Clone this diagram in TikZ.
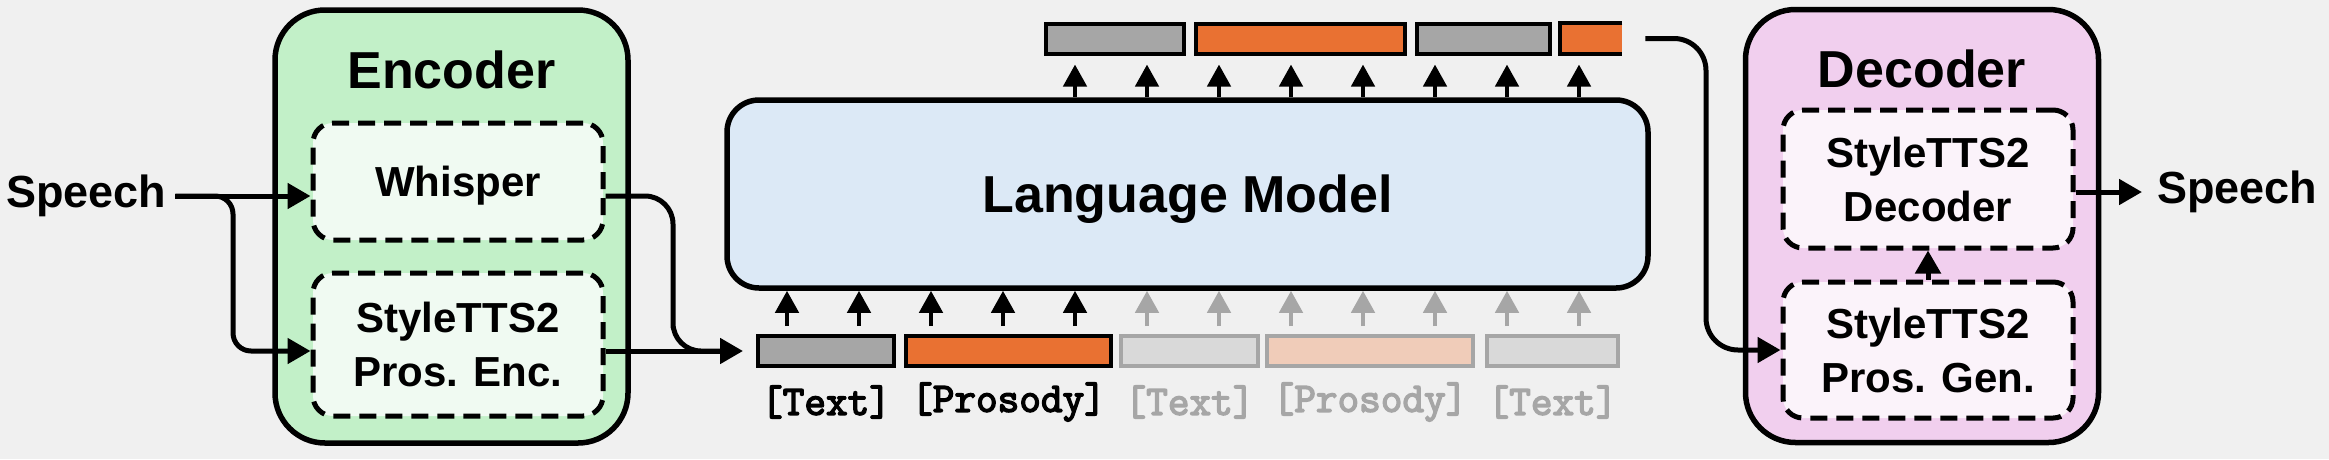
\documentclass[tikz,border=0pt]{standalone}
\usepackage{fontspec}
\setmainfont{Liberation Sans}
\newfontfamily\tokfont{Latin Modern Mono}[FakeBold=3.5]
\usepackage{xcolor}
\usepackage{tikz}
\usetikzlibrary{arrows.meta,positioning}
\definecolor{bggray}{RGB}{240,240,240}
\definecolor{encgreen}{RGB}{194,240,200}
\definecolor{encinner}{RGB}{240,250,242}
\definecolor{lmblue}{RGB}{220,233,246}
\definecolor{decpink}{RGB}{241,207,238}
\definecolor{decinner}{RGB}{251,243,250}
\definecolor{tokgray}{RGB}{166,166,166}
\definecolor{tokorange}{RGB}{233,113,50}
\definecolor{fadegray}{RGB}{166,166,166}
\definecolor{fadelight}{RGB}{217,217,217}
\definecolor{fadeorange}{RGB}{240,204,185}
\tikzset{
  titletext/.style={font=\fontsize{52}{62}\selectfont\bfseries,inner sep=0pt},
  iolabel/.style={font=\fontsize{45}{52}\selectfont\bfseries,inner sep=0pt},
  toklabel/.style={font=\fontsize{42}{48}\selectfont\tokfont,inner sep=0pt},
  outerbox/.style={
    draw,line width=5.5pt,rounded corners=50pt,
    minimum width=353pt,minimum height=433pt
  },
  encbox/.style={outerbox,fill=encgreen},
  decbox/.style={outerbox,fill=decpink},
  innerbox/.style={
    draw,dash pattern=on 17pt off 9pt,line width=5pt,rounded corners=20pt,
    minimum width=290pt,inner sep=0pt,align=center,text depth=0pt,
    font=\fontsize{42}{54}\selectfont\bfseries
  },
  encinbox/.style={innerbox,fill=encinner},
  decinbox/.style={innerbox,fill=decinner},
  lmbox/.style={
    titletext,draw,line width=5.5pt,rounded corners=32pt,fill=lmblue,
    minimum width=921pt,minimum height=188pt,text depth=0pt
  },
  tokbox/.style={draw,line width=4pt,minimum height=30pt,inner sep=0pt},
  graytok/.style={tokbox,fill=tokgray},
  orangetok/.style={tokbox,fill=tokorange},
  fadegraytok/.style={tokbox,draw=fadegray,fill=fadelight},
  fadeorangetok/.style={tokbox,draw=fadegray,fill=fadeorange},
  flowarrow/.style={-{Triangle[length=23pt,width=25pt]},line width=5pt},
  flowline/.style={line width=5pt},
  tokarrow/.style={-{Triangle[length=22pt,width=23pt]},line width=4.5pt}
}
\begin{document}
\begin{tikzpicture}[x=1pt,y=-1pt,node distance=8pt]
  \useasboundingbox (0,0) rectangle (2329,459);
  \fill[bggray] (0,0) rectangle (2329,459);
  \node[encbox] (enc) at (451.5,226.5) {};
  \node[titletext,below=43pt of enc.north] (enctitle) {Encoder};
  \node[encinbox,minimum height=117pt] (whisper) at (458,181.5) {Whisper};
  \node[encinbox,minimum height=143pt] (prosenc) at (458,344.5) {StyleTTS2\\Pros. Enc.};
  \node[iolabel,anchor=west] (spin) at (6,196) {Speech};
  \node[lmbox] (lm) at (1187.5,194) {Language Model};
  \node[graytok,minimum width=136pt] (tok1) at (826,351) {};
  \node[orangetok,minimum width=205pt,right=of tok1] (tok2) {};
  \node[fadegraytok,minimum width=137pt,right=6pt of tok2] (tok3) {};
  \node[fadeorangetok,minimum width=206pt,right=5pt of tok3] (tok4) {};
  \node[fadegraytok,minimum width=131pt,right=10pt of tok4] (tok5) {};
  \node[toklabel] (lab1) at (tok1.south |- 0,402) {[Text]};
  \node[toklabel] (lab2) at (tok2.south |- 0,402) {[Prosody]};
  \node[toklabel,text=fadegray] (lab3) at (tok3.south |- 0,402) {[Text]};
  \node[toklabel,text=fadegray] (lab4) at (tok4.south |- 0,402) {[Prosody]};
  \node[toklabel,text=fadegray] (lab5) at (tok5.south |- 0,402) {[Text]};
  \node[graytok,minimum width=138pt] (gtop1) at (1115,38.5) {};
  \node[orangetok,minimum width=209pt,right=of gtop1] (otop2) {};
  \node[graytok,minimum width=133pt,right=of otop2] (gtop3) {};
  \node[fill=tokorange,minimum width=62pt,minimum height=30pt,inner sep=0pt,right=of gtop3] (otop4) {};
  \draw[line width=4pt] (otop4.north east) -- (otop4.north west) -- (otop4.south west) -- (otop4.south east);
  \node[decbox] (dec) at (1922,226) {};
  \node[titletext,below=43pt of dec.north] (dectitle) {Decoder};
  \node[decinbox,minimum height=138pt] (stdec) at (1928,179) {StyleTTS2\\Decoder};
  \node[decinbox,minimum height=136pt] (prosgen) at (1928,350) {StyleTTS2\\Pros. Gen.};
  \node[iolabel,anchor=west] (spout) at (2157,192) {Speech};
  \coordinate (split) at (233,300);
  \coordinate (wjog) at (673,300);
  \coordinate (merge) at (725,351);
  \coordinate (vjog) at (1706,200);
  \draw[flowarrow,shorten <=9pt] (spin.east) -- (whisper.west |- spin.east);
  \draw[flowarrow,shorten <=9pt,rounded corners=18pt] (spin.east) -| (split) |- (prosenc.west |- tok1.west);
  \draw[flowline,rounded corners=28pt] (whisper.east |- spin.east) -| (wjog) |- (merge);
  \draw[flowarrow,shorten >=13pt] (prosenc.east |- tok1.west) -- (tok1.west);
  \foreach \x in {787,859,...,1075}
    \draw[tokarrow,shorten <=8pt] (\x,0 |- tok1.north) -- (\x,0 |- lm.south);
  \foreach \x in {1147,1219,...,1579}
    \draw[tokarrow,fadegray,shorten <=8pt] (\x,0 |- tok1.north) -- (\x,0 |- lm.south);
  \foreach \x in {1075,1147,...,1579}
    \draw[tokarrow,shorten >=9pt] (\x,0 |- lm.north) -- (\x,0 |- gtop1.south);
  \draw[flowarrow,shorten <=23pt,rounded corners=32pt] (otop4.east) -| (vjog) |- (prosgen.west);
  \draw[flowarrow] (prosgen.north) -- (stdec.south);
  \draw[flowarrow,shorten >=15pt] (stdec.east |- spout.west) -- (spout.west);
\end{tikzpicture}
\end{document}
